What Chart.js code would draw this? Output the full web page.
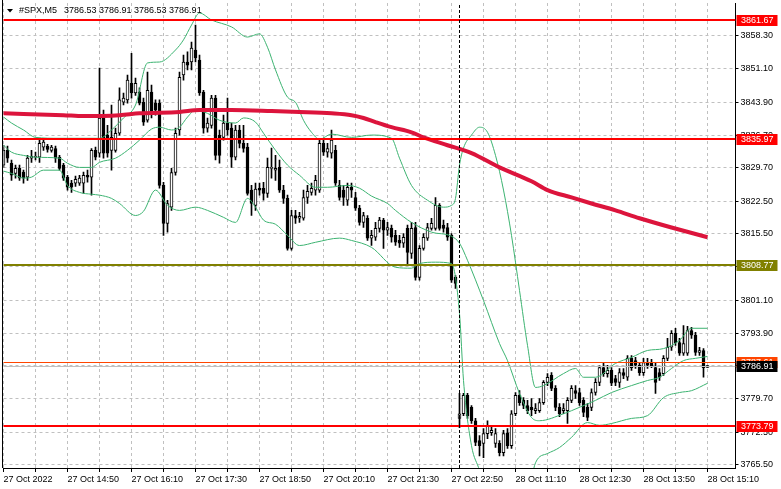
<!DOCTYPE html>
<html>
<head>
<meta charset="utf-8">
<script src="https://cdn.jsdelivr.net/npm/chart.js@4.4.0/dist/chart.umd.min.js"></script>
<style>
  html, body { margin: 0; padding: 0; background: #fff; }
  canvas { display: block; }
</style>
</head>
<body>
<canvas id="chart" width="781" height="489"></canvas>
<script>
var FONT_FAMILY = "'Liberation Sans', Arial, sans-serif";
var FONT_SIZE = 9;

// bar times: 27 Oct from 13:30, 28 Oct from 10:00 (M5)
var sessionDays = ['27 Oct', '28 Oct'];
var sessionStart = ['13:30', '10:00'];
var sessionBars = [114, 63];
var rightShiftBars = 7;

var xTickLabels = ['27 Oct 2022', '27 Oct 14:50', '27 Oct 16:10', '27 Oct 17:30', '27 Oct 18:50', '27 Oct 20:10',
  '27 Oct 21:30', '27 Oct 22:50', '28 Oct 11:10', '28 Oct 12:30', '28 Oct 13:50', '28 Oct 15:10'];
var yTicks = [3765.50, 3772.50, 3779.70, 3786.90, 3793.90, 3801.10, 3808.30, 3815.50, 3822.50, 3829.70,
  3836.70, 3843.90, 3851.10, 3858.30];

var opens = [
  3830.3, 3833.5, 3830.7, 3828.5, 3829.6, 3828.8, 3827.7, 3831.8, 3832.0, 3832.0,
  3834.2, 3834.4, 3833.5, 3833.9, 3832.0, 3830.3, 3827.7, 3826.4, 3826.4, 3826.4,
  3826.4, 3828.1, 3827.7, 3833.5, 3832.9, 3840.5, 3836.8, 3833.5, 3833.5, 3837.2,
  3843.9, 3844.4, 3848.0, 3845.9, 3846.1, 3843.9, 3840.0, 3846.1, 3843.7, 3843.7,
  3825.9, 3817.7, 3821.2, 3828.7, 3837.9, 3849.8, 3852.6, 3852.6, 3855.2, 3853.0,
  3846.1, 3838.3, 3838.9, 3844.8, 3836.8, 3836.3, 3839.4, 3838.3, 3832.0, 3837.9,
  3835.0, 3834.2, 3824.9, 3821.6, 3825.3, 3825.3, 3824.2, 3829.6, 3829.2, 3829.8,
  3824.9, 3823.1, 3812.3, 3819.4, 3818.8, 3818.8, 3823.3, 3824.4, 3824.9, 3824.9,
  3835.0, 3833.1, 3832.9, 3833.5, 3825.9, 3824.9, 3822.7, 3825.5, 3823.3, 3821.0,
  3817.9, 3818.8, 3814.5, 3814.7, 3816.6, 3818.4, 3816.2, 3816.6, 3815.1, 3814.0,
  3813.4, 3816.6, 3811.2, 3816.8, 3806.0, 3812.3, 3814.5, 3816.6, 3816.6, 3821.6,
  3817.3, 3816.8, 3815.1, 3806.0, 3775.5, 3776.5, 3780.5, 3777.9, 3775.0, 3770.7,
  3770.1, 3772.2, 3772.4, 3770.1, 3770.1, 3768.1, 3772.4, 3769.6, 3776.5, 3780.5,
  3779.4, 3778.3, 3777.9, 3777.2, 3777.2, 3778.9, 3783.3, 3784.8, 3782.0, 3777.9,
  3777.2, 3777.2, 3779.4, 3781.5, 3781.1, 3779.4, 3777.9, 3777.9, 3781.1, 3783.3,
  3786.5, 3785.2, 3785.9, 3784.1, 3783.3, 3785.4, 3784.4, 3788.5, 3788.0, 3787.0,
  3785.4, 3787.6, 3787.4, 3786.5, 3785.4, 3785.2, 3788.5, 3790.9, 3793.9, 3791.9,
  3789.6, 3789.6, 3794.5, 3793.5, 3789.8, 3790.2, 3786.53
];
var highs = [
  3834.6, 3834.4, 3831.4, 3830.3, 3830.3, 3829.2, 3832.4, 3833.5, 3833.1, 3835.7,
  3835.7, 3834.8, 3834.6, 3834.4, 3832.4, 3830.7, 3828.1, 3827.0, 3827.9, 3828.1,
  3828.8, 3829.2, 3833.9, 3834.2, 3851.3, 3842.2, 3838.9, 3843.3, 3838.3, 3847.0,
  3845.9, 3849.8, 3854.5, 3849.1, 3847.0, 3844.8, 3850.4, 3847.6, 3844.4, 3844.4,
  3826.6, 3822.7, 3829.6, 3838.3, 3850.4, 3854.1, 3854.8, 3856.9, 3860.6, 3854.1,
  3846.5, 3840.5, 3845.4, 3845.4, 3837.9, 3841.1, 3844.8, 3839.4, 3838.9, 3838.9,
  3838.9, 3835.0, 3825.9, 3826.4, 3826.4, 3826.6, 3831.8, 3834.0, 3832.4, 3831.4,
  3825.9, 3823.8, 3820.5, 3820.5, 3820.1, 3824.9, 3825.9, 3826.4, 3828.1, 3835.7,
  3836.1, 3835.0, 3837.9, 3834.6, 3827.0, 3825.9, 3826.4, 3826.4, 3824.4, 3821.6,
  3820.1, 3819.4, 3816.2, 3817.9, 3819.0, 3818.8, 3817.9, 3817.3, 3816.2, 3815.1,
  3815.5, 3817.3, 3817.9, 3817.9, 3812.9, 3815.5, 3817.7, 3818.8, 3823.3, 3822.0,
  3818.4, 3817.7, 3815.5, 3806.4, 3780.9, 3780.9, 3780.9, 3778.3, 3775.5, 3771.8,
  3773.3, 3775.0, 3774.0, 3773.3, 3770.7, 3772.9, 3773.3, 3777.2, 3781.1, 3781.5,
  3780.0, 3779.4, 3779.8, 3778.7, 3779.8, 3783.7, 3785.2, 3785.4, 3782.6, 3778.7,
  3778.7, 3780.0, 3782.6, 3782.6, 3782.0, 3780.0, 3778.7, 3781.9, 3784.1, 3786.9,
  3787.4, 3787.0, 3786.5, 3784.8, 3786.3, 3786.3, 3789.1, 3789.1, 3788.7, 3787.6,
  3788.5, 3788.5, 3788.3, 3787.6, 3786.3, 3789.1, 3792.8, 3794.5, 3795.0, 3792.8,
  3795.6, 3795.4, 3795.2, 3794.1, 3790.9, 3790.6, 3786.91
];
var lows = [
  3829.8, 3830.9, 3827.0, 3827.5, 3827.0, 3826.4, 3827.0, 3830.9, 3831.4, 3830.9,
  3833.5, 3833.1, 3833.1, 3830.9, 3829.2, 3827.0, 3824.9, 3824.4, 3825.7, 3825.9,
  3824.2, 3826.6, 3823.8, 3831.4, 3832.0, 3831.8, 3832.0, 3829.2, 3833.1, 3836.8,
  3843.3, 3843.7, 3844.8, 3845.4, 3843.3, 3838.9, 3839.6, 3840.5, 3841.1, 3825.3,
  3815.1, 3815.8, 3820.5, 3828.1, 3836.8, 3848.7, 3850.9, 3850.9, 3852.6, 3845.4,
  3837.2, 3837.4, 3838.3, 3831.4, 3830.7, 3835.7, 3836.8, 3829.8, 3831.4, 3834.0,
  3833.1, 3823.8, 3819.4, 3820.5, 3823.8, 3822.7, 3823.3, 3827.5, 3827.0, 3824.4,
  3822.0, 3811.9, 3811.9, 3817.7, 3817.9, 3818.4, 3822.0, 3823.8, 3823.8, 3824.4,
  3832.4, 3832.0, 3831.8, 3825.9, 3822.7, 3821.6, 3821.6, 3823.3, 3820.5, 3817.3,
  3816.8, 3814.0, 3812.9, 3814.0, 3815.8, 3812.3, 3815.1, 3813.6, 3812.9, 3812.5,
  3812.5, 3809.0, 3810.1, 3805.4, 3805.4, 3811.9, 3814.0, 3816.2, 3816.2, 3816.2,
  3815.8, 3814.0, 3804.9, 3803.6, 3773.5, 3776.1, 3775.5, 3774.4, 3769.6, 3767.4,
  3767.0, 3771.1, 3771.8, 3769.2, 3767.4, 3767.4, 3769.0, 3769.0, 3776.1, 3778.3,
  3777.6, 3776.5, 3776.1, 3776.5, 3776.8, 3778.5, 3782.6, 3781.5, 3777.2, 3775.9,
  3776.5, 3774.4, 3778.9, 3779.8, 3778.3, 3775.9, 3775.0, 3777.2, 3780.5, 3782.6,
  3784.6, 3784.4, 3782.6, 3782.6, 3782.2, 3784.1, 3783.7, 3785.9, 3786.3, 3784.8,
  3784.8, 3786.3, 3786.5, 3780.9, 3783.7, 3784.8, 3788.0, 3790.2, 3791.3, 3789.1,
  3789.1, 3789.1, 3792.8, 3789.1, 3789.1, 3784.4, 3786.53
];
var closes = [
  3833.5, 3831.8, 3828.1, 3829.6, 3827.5, 3827.5, 3831.8, 3832.2, 3832.2, 3835.0,
  3835.3, 3833.7, 3834.2, 3831.8, 3829.6, 3827.5, 3825.5, 3825.5, 3827.2, 3827.5,
  3828.1, 3827.7, 3833.5, 3832.0, 3840.5, 3832.9, 3832.9, 3836.3, 3837.2, 3844.4,
  3844.8, 3848.7, 3845.9, 3848.0, 3843.7, 3839.6, 3846.5, 3841.5, 3842.2, 3825.9,
  3817.7, 3822.0, 3828.7, 3837.2, 3849.3, 3852.6, 3851.9, 3855.6, 3853.5, 3845.9,
  3838.3, 3839.4, 3844.8, 3832.4, 3832.4, 3839.4, 3837.9, 3832.0, 3837.9, 3835.0,
  3833.9, 3824.2, 3822.0, 3825.1, 3824.9, 3824.2, 3829.8, 3829.8, 3829.6, 3824.9,
  3823.1, 3812.3, 3819.4, 3818.8, 3819.2, 3823.3, 3824.6, 3825.3, 3827.0, 3835.0,
  3833.1, 3833.9, 3835.7, 3826.4, 3823.3, 3823.3, 3825.5, 3824.9, 3821.0, 3817.9,
  3819.4, 3814.5, 3815.1, 3816.6, 3818.4, 3816.2, 3816.8, 3814.7, 3813.6, 3813.4,
  3814.7, 3811.4, 3816.6, 3806.0, 3812.3, 3814.7, 3816.8, 3817.7, 3821.6, 3816.6,
  3816.6, 3814.7, 3805.4, 3804.7, 3776.5, 3780.5, 3776.1, 3775.0, 3770.3, 3769.6,
  3772.2, 3774.0, 3772.9, 3772.2, 3768.1, 3772.2, 3769.6, 3776.5, 3780.5, 3778.9,
  3778.3, 3777.2, 3777.4, 3777.6, 3778.9, 3783.3, 3784.4, 3782.0, 3777.9, 3776.5,
  3777.6, 3779.4, 3782.0, 3780.9, 3778.9, 3776.8, 3775.7, 3781.1, 3783.3, 3786.5,
  3785.2, 3785.9, 3783.1, 3783.3, 3785.4, 3784.8, 3788.5, 3786.5, 3787.0, 3785.4,
  3787.6, 3787.0, 3786.8, 3783.3, 3784.4, 3788.5, 3790.9, 3793.9, 3791.9, 3789.6,
  3791.7, 3794.5, 3793.5, 3789.8, 3790.2, 3786.5, 3786.91
];

// moving average (red) read at some bars
var maAt = [0, 15, 20, 29, 34, 44, 49, 57, 67, 74, 82, 87, 90, 93, 97, 102, 105, 111, 117, 124, 132, 136, 142, 147, 153, 159, 167, 176];
var maVals = [3841.5, 3841.1, 3840.9, 3841.1, 3841.5, 3841.8, 3842.2, 3842.2, 3842.0, 3841.8, 3841.5, 3841.1, 3840.5, 3839.6,
  3838.5, 3837.4, 3836.3, 3834.6, 3832.9, 3829.8, 3826.8, 3824.9, 3823.3, 3822.0, 3820.5, 3818.8, 3816.8, 3814.7];

// bollinger bands (green)
var upperAt = [0, 2, 5, 8, 14, 20, 24, 27, 30, 33, 36, 39, 43, 45, 47, 49, 52, 57, 61, 64, 66, 68, 71, 73, 75, 77, 79, 82, 87, 92,
  97, 99, 102, 106, 110, 112, 113, 114, 115, 117, 119, 121, 123, 125, 127, 129, 131, 133, 135, 140, 143, 145, 148, 153, 157,
  161, 165, 169, 172, 176];
var upperVals = [3840.7, 3839.4, 3837.9, 3836.3, 3836.1, 3836.1, 3836.1, 3837.9, 3840.5, 3843.3, 3852.4, 3852.6, 3855.2, 3857.4,
  3860.6, 3863.2, 3861.7, 3860.2, 3858.0, 3858.7, 3855.8, 3850.9, 3845.0, 3843.9, 3840.0, 3837.4, 3835.9, 3837.0, 3836.3, 3836.8,
  3836.1, 3831.8, 3825.9, 3822.7, 3821.2, 3821.6, 3823.1, 3830.3, 3834.0, 3836.8, 3838.5, 3837.4, 3832.4, 3824.9, 3815.1, 3803.2,
  3791.3, 3782.2, 3782.6, 3785.2, 3786.3, 3784.4, 3784.4, 3787.4, 3788.7, 3790.2, 3790.6, 3792.4, 3795.0, 3795.0];

var middleAt = [0, 2, 5, 8, 14, 16, 19, 22, 24, 28, 31, 34, 37, 39, 42, 44, 46, 48, 51, 54, 58, 60, 63, 65, 68, 71, 74, 78, 81, 86,
  89, 92, 96, 98, 102, 107, 112, 114, 116, 120, 124, 126, 129, 132, 134, 140, 144, 148, 152, 157, 161, 164, 167, 170, 173, 176];
var middleVals = [3834.6, 3833.1, 3832.4, 3832.0, 3831.8, 3830.7, 3829.8, 3829.8, 3830.9, 3831.8, 3833.5, 3835.7, 3838.1, 3838.5,
  3837.9, 3838.5, 3840.7, 3842.2, 3841.5, 3840.0, 3839.4, 3840.5, 3839.6, 3837.2, 3833.5, 3830.3, 3828.1, 3825.5, 3825.5, 3825.9,
  3825.3, 3823.6, 3822.0, 3820.5, 3817.9, 3815.8, 3814.9, 3813.4, 3809.7, 3801.0, 3791.7, 3788.0, 3780.9, 3775.7, 3775.0, 3776.5,
  3777.9, 3779.4, 3781.1, 3782.6, 3783.7, 3784.4, 3786.3, 3788.0, 3788.5, 3788.9];

var lowerAt = [0, 2, 5, 7, 10, 14, 16, 19, 22, 24, 27, 29, 33, 35, 38, 41, 44, 48, 51, 55, 58, 61, 63, 65, 68, 71, 74, 78, 84, 87,
  92, 98, 102, 104, 108, 112, 114, 115, 117, 119, 122, 125, 128, 131, 133, 136, 139, 142, 146, 149, 152, 157, 161, 165, 169, 172, 176];
var lowerVals = [3829.0, 3828.5, 3827.5, 3827.7, 3829.2, 3829.2, 3825.9, 3824.4, 3824.0, 3823.8, 3823.1, 3822.0, 3819.4, 3820.3,
  3824.9, 3821.6, 3820.5, 3821.2, 3820.5, 3819.0, 3817.9, 3823.1, 3821.2, 3818.4, 3817.5, 3815.1, 3812.9, 3813.6, 3814.5, 3814.0,
  3812.5, 3808.2, 3808.0, 3809.0, 3809.3, 3809.0, 3798.2, 3783.7, 3769.6, 3764.2, 3753.4, 3745.8, 3747.9, 3757.7, 3765.9, 3767.9,
  3769.2, 3771.4, 3774.6, 3774.0, 3774.4, 3775.5, 3776.1, 3780.0, 3781.1, 3781.5, 3783.1];

// horizontal levels
var levels = [3861.67, 3835.97, 3808.77, 3773.79];
var levelColors = ['#ff0000', '#ff0000', '#808000', '#ff0000'];
var askPrice = 3787.61;
var separatorBar = 114;

var Y_MIN = 3764.77;
var Y_MAX = 3865.37;

// build categories
var categories = [];
sessionDays.forEach(function (day, s) {
  var parts = sessionStart[s].split(':');
  var start = parseInt(parts[0]) * 60 + parseInt(parts[1]);
  for (var k = 0; k < sessionBars[s]; k++) {
    var m = start + 5 * k;
    var hh = Math.floor(m / 60), mm = m % 60;
    categories.push(day + ' ' + hh + ':' + (mm < 10 ? '0' : '') + mm);
  }
});
for (var k = 0; k < rightShiftBars; k++) categories.push('');

function sparse(idx, vals) {
  var arr = categories.map(function () { return null; });
  idx.forEach(function (ix, n) { arr[ix] = vals[n]; });
  return arr;
}

var wickData = opens.map(function (o, i) { return [lows[i], highs[i]]; });
var bodyData = opens.map(function (o, i) { return [opens[i], closes[i]]; });
var bodyColors = opens.map(function (o, i) { return closes[i] >= opens[i] ? '#ffffff' : '#000000'; });

var font = FONT_SIZE + 'px ' + FONT_FAMILY;
var last = opens.length - 1;

var overlay = {
  id: 'overlay',
  afterDatasetsDraw: function (chart) {
    var ctx = chart.ctx, area = chart.chartArea, y = chart.scales.y, x = chart.scales.x;
    ctx.save();
    ctx.beginPath();
    ctx.rect(area.left - 2, area.top, area.right - area.left + 2, area.bottom - area.top);
    ctx.clip();
    // bid / ask lines
    var bidY = Math.round(y.getPixelForValue(closes[last])) + 0.5;
    ctx.strokeStyle = '#c0c0c0'; ctx.lineWidth = 1;
    ctx.beginPath(); ctx.moveTo(area.left, bidY); ctx.lineTo(area.right, bidY); ctx.stroke();
    var askY = Math.round(y.getPixelForValue(askPrice)) + 0.5;
    ctx.strokeStyle = '#ff4500';
    ctx.beginPath(); ctx.moveTo(area.left, askY); ctx.lineTo(area.right, askY); ctx.stroke();
    // levels
    levels.forEach(function (lv, n) {
      var py = Math.round(y.getPixelForValue(lv));
      ctx.strokeStyle = levelColors[n]; ctx.lineWidth = 2;
      ctx.beginPath(); ctx.moveTo(area.left, py); ctx.lineTo(area.right, py); ctx.stroke();
    });
    // period separator
    var sx = Math.floor(x.getPixelForValue(separatorBar)) + 0.5;
    ctx.strokeStyle = '#000'; ctx.lineWidth = 1; ctx.setLineDash([3, 2]);
    ctx.beginPath(); ctx.moveTo(sx, area.top - 3); ctx.lineTo(sx, area.bottom); ctx.stroke();
    ctx.setLineDash([]);
    ctx.restore();
  },
  afterDraw: function (chart) {
    var ctx = chart.ctx, area = chart.chartArea, y = chart.scales.y;
    ctx.save();
    // left frame
    ctx.strokeStyle = '#000'; ctx.lineWidth = 1;
    ctx.beginPath(); ctx.moveTo(2.5, 0); ctx.lineTo(2.5, area.bottom); ctx.stroke();

    ctx.font = font;
    ctx.textBaseline = 'middle';
    ctx.textAlign = 'left';
    function box(value, fill, color) {
      var py = y.getPixelForValue(value);
      ctx.fillStyle = fill;
      ctx.fillRect(area.right + 1, Math.round(py) - 5, 41, 11);
      ctx.fillStyle = color;
      ctx.fillText(value.toFixed(2), area.right + 5.5, Math.round(py) + 0.5);
    }
    levels.forEach(function (lv, n) { box(lv, levelColors[n], '#fff'); });
    box(askPrice, '#ff4500', '#fff');
    box(closes[last], '#000', '#fff');

    // header
    ctx.fillStyle = '#000';
    ctx.beginPath(); ctx.moveTo(7, 9); ctx.lineTo(13, 9); ctx.lineTo(10, 12.5); ctx.closePath(); ctx.fill();
    ctx.fillText('#SPX,M5', 19, 11);
    ctx.fillText([opens[last], highs[last], lows[last], closes[last]].map(function (v) { return v.toFixed(2); }).join(' '), 64, 11);
    ctx.restore();
  }
};

function lineSet(label, data, color, width) {
  return {
    type: 'line', label: label, data: data, borderColor: color, borderWidth: width,
    pointRadius: 0, spanGaps: true, cubicInterpolationMode: 'monotone', order: 0
  };
}

var ctx = document.getElementById('chart').getContext('2d');
var chart = new Chart(ctx, {
  type: 'bar',
  data: {
    labels: categories,
    datasets: [
      lineSet('MA', sparse(maAt, maVals), '#dc143c', 4),
      lineSet('BB upper', sparse(upperAt, upperVals), '#3cb371', 1),
      lineSet('BB middle', sparse(middleAt, middleVals), '#3cb371', 1),
      lineSet('BB lower', sparse(lowerAt, lowerVals), '#3cb371', 1),
      {
        label: 'body', data: bodyData, backgroundColor: bodyColors, borderColor: '#000', borderWidth: 1,
        borderSkipped: false, barThickness: 3, grouped: false, minBarLength: 1, order: 1
      },
      {
        label: 'wick', data: wickData, backgroundColor: '#000', borderWidth: 0,
        barThickness: 1, grouped: false, order: 2
      }
    ]
  },
  options: {
    responsive: false,
    animation: false,
    events: [],
    layout: { padding: { left: 3.5, top: 3, right: 0, bottom: 0 } },
    plugins: {
      legend: { display: false },
      tooltip: { enabled: false }
    },
    scales: {
      x: {
        type: 'category',
        offset: false,
        grid: { offset: false, color: '#c0c0c0', tickColor: '#000', tickLength: 4, tickWidth: 1 },
        border: { color: '#000', width: 1, dash: [3, 3] },
        ticks: {
          autoSkip: false, maxRotation: 0, minRotation: 0, align: 'start', padding: 2,
          color: '#000', font: { family: FONT_FAMILY, size: FONT_SIZE },
          callback: function (v) { return v % 16 === 0 ? xTickLabels[v / 16] : ''; }
        },
        afterBuildTicks: function (s) { s.ticks = s.ticks.filter(function (t) { return t.value % 8 === 0; }); },
        afterFit: function (s) { s.height = 21; s.paddingLeft = 0; s.paddingRight = 0; }
      },
      y: {
        position: 'right',
        bounds: 'data',
        min: Y_MIN,
        max: Y_MAX,
        grid: { color: '#c0c0c0', tickColor: '#000', tickLength: 3, tickWidth: 1 },
        border: { color: '#000', width: 1, dash: [3, 3] },
        ticks: {
          padding: 2, color: '#000', font: { family: FONT_FAMILY, size: FONT_SIZE },
          callback: function (v) { return v.toFixed(2); }
        },
        afterBuildTicks: function (s) { s.ticks = yTicks.map(function (v) { return { value: v }; }); },
        afterFit: function (s) { s.width = 45.5; s.paddingTop = 0; s.paddingBottom = 0; }
      }
    }
  },
  plugins: [overlay]
});
</script>
</body>
</html>
